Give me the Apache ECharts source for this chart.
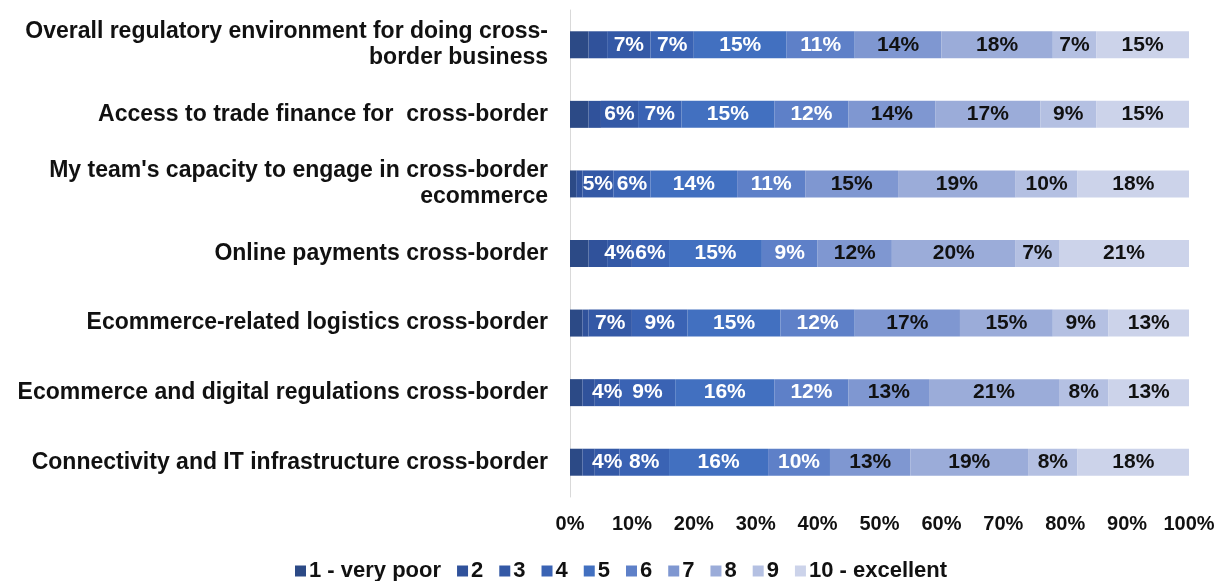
<!DOCTYPE html>
<html>
<head>
<meta charset="utf-8">
<script src="https://cdn.jsdelivr.net/npm/echarts@6/dist/echarts.min.js"></script>
<style>
  html, body { margin: 0; padding: 0; background: #fff; }
  #chart { width: 1222px; height: 581px; }
</style>
</head>
<body>
<div id="chart"></div>
<script>
// Survey topics (top to bottom)
const categories = [
  "Overall regulatory environment for doing cross-\nborder business",
  "Access to trade finance for  cross-border",
  "My team's capacity to engage in cross-border\necommerce",
  "Online payments cross-border",
  "Ecommerce-related logistics cross-border",
  "Ecommerce and digital regulations cross-border",
  "Connectivity and IT infrastructure cross-border"
];

// Rating scale names
const ratingNames = ["1 - very poor", "2", "3", "4", "5", "6", "7", "8", "9", "10 - excellent"];

// Share of respondents (%) per rating, one array per rating, ordered as categories
const rating1  = [3, 3, 1, 3, 2, 2, 2];
const rating2  = [3, 2, 1, 3, 1, 2, 2];
const rating3  = [7, 6, 5, 4, 7, 4, 4];
const rating4  = [7, 7, 6, 6, 9, 9, 8];
const rating5  = [15, 15, 14, 15, 15, 16, 16];
const rating6  = [11, 12, 11, 9, 12, 12, 10];
const rating7  = [14, 14, 15, 12, 17, 13, 13];
const rating8  = [18, 17, 19, 20, 15, 21, 19];
const rating9  = [7, 9, 10, 7, 9, 8, 8];
const rating10 = [15, 15, 18, 21, 13, 13, 18];

const ratingValues = [rating1, rating2, rating3, rating4, rating5, rating6, rating7, rating8, rating9, rating10];

const xTicks = { min: 0, max: 100, interval: 10 };

const colors = ["#2C4A86", "#30529B", "#3459A6", "#3A63B4", "#4270C0",
                "#5E80C8", "#7F97D1", "#9BACD9", "#B4C0E2", "#CCD3EA"];

const fontFamily = "'Liberation Sans', Arial, sans-serif";

const series = ratingValues.map((vals, i) => ({
  name: ratingNames[i],
  type: "bar",
  stack: "total",
  barWidth: 27,
  data: vals,
  itemStyle: { color: colors[i] },
  emphasis: { disabled: true },
  label: {
    show: i >= 2,
    position: "inside",
    formatter: "{c}%",
    color: i <= 5 ? "#ffffff" : "#111111",
    fontFamily: fontFamily,
    fontWeight: "bold",
    fontSize: 21
  }
}));

const chart = echarts.init(document.getElementById("chart"), null, { renderer: "canvas" });
chart.setOption({
  animation: false,
  color: colors,
  grid: { left: 570, right: 33, top: 10, bottom: 84, containLabel: false },
  legend: {
    top: 555,
    left: 290,
    itemWidth: 11,
    itemHeight: 11,
    itemGap: 16,
    icon: "rect",
    textStyle: { fontFamily: fontFamily, fontWeight: "bold", fontSize: 22, color: "#111", padding: [0, 0, 0, -2] },
    data: ratingNames
  },
  xAxis: {
    type: "value",
    min: xTicks.min,
    max: xTicks.max,
    interval: xTicks.interval,
    axisLine: { show: false },
    axisTick: { show: false },
    splitLine: { show: false },
    axisLabel: {
      formatter: "{value}%",
      margin: 17,
      color: "#111",
      fontFamily: fontFamily,
      fontWeight: "bold",
      fontSize: 20
    }
  },
  yAxis: {
    type: "category",
    inverse: true,
    data: categories,
    axisLine: { show: true, lineStyle: { color: "#D9D9D9", width: 1 } },
    axisTick: { show: false },
    axisLabel: {
      margin: 22,
      color: "#111",
      align: "right",
      fontFamily: fontFamily,
      fontWeight: "bold",
      fontSize: 23,
      lineHeight: 26
    }
  },
  series: series
});
</script>
</body>
</html>
